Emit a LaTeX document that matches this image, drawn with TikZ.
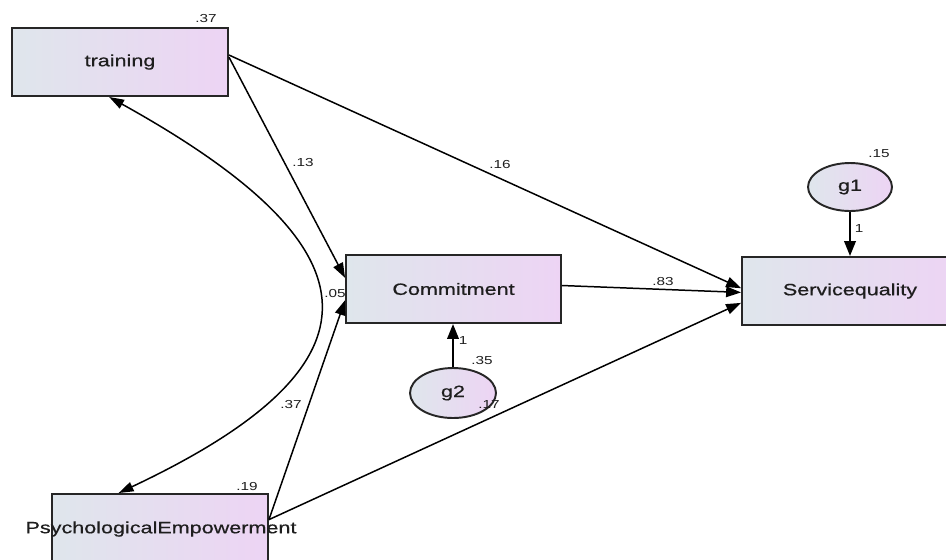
\documentclass[tikz,border=0pt]{standalone}
\usepackage{fontspec}
\setmainfont{Liberation Sans}[FakeStretch=1.32]
\newfontfamily\lblfont{Liberation Sans}[FakeStretch=1.32,FakeBold=0.6]
\usetikzlibrary{arrows.meta,calc,shapes.geometric}
\definecolor{boxL}{HTML}{DFE6EC}
\definecolor{boxR}{HTML}{EDD4F4}
\definecolor{txt}{HTML}{1E1E1E}
\begin{document}
\begin{tikzpicture}[x=0.02cm,y=-0.02cm,
  obs/.style={draw=black!85,line width=1.1pt,left color=boxL,right color=boxR,
    minimum width=4.32cm,minimum height=1.36cm,inner sep=0pt,
    font=\lblfont\fontsize{9.3}{11}\selectfont,text=txt},
  err/.style={ellipse,draw=black!85,line width=1.1pt,left color=boxL,right color=boxR,
    minimum width=1.7cm,minimum height=0.98cm,inner sep=0pt,
    font=\lblfont\fontsize{9.3}{11}\selectfont,text=txt},
  pth/.style={line width=0.85pt,-{Triangle[length=8.5pt,width=6pt]}},
  fixp/.style={line width=1.3pt,-{Triangle[length=8.5pt,width=6.5pt]}},
  dbl/.style={line width=0.85pt,{Triangle[length=8.5pt,width=5.5pt]}-{Triangle[length=8.5pt,width=5.5pt]}},
  coef/.style={font=\fontsize{6.6}{8}\selectfont,text=txt,inner sep=0pt}]
\useasboundingbox (0,0) rectangle (946,559);

% nodes
\node[obs] (training) at (120,62) {training};
\node[obs, minimum width=4.30cm] (commit) at (453.5,289) {Commitment};
\node[obs] (servq) at (850,291) {Servicequality};
\node[obs] (pe) at (160,528) {};
\node[font=\lblfont\fontsize{9.3}{11}\selectfont,text=txt,inner sep=0pt] (pelabel) at (161,529) {PsychologicalEmpowerment};
\node[err, minimum width=1.68cm, minimum height=0.96cm] (g1) at (850,187) {g1};
\node[err, minimum width=1.72cm, minimum height=1.0cm] (g2) at (453,393) {g2};

% anchor points
\coordinate (trE1) at ($(training.north east)!0.40!(training.south east)$);
\coordinate (trE2) at ($(training.north east)!0.43!(training.south east)$);
\coordinate (peE) at ($(pe.north east)!0.38!(pe.south east)$);
\coordinate (coE) at ($(commit.north east)!0.45!(commit.south east)$);
\coordinate (coW1) at ($(commit.north west)!0.34!(commit.south west)$);
\coordinate (coW2) at ($(commit.north west)!0.66!(commit.south west)$);
\coordinate (sqW1) at ($(servq.north west)!0.46!(servq.south west)$);
\coordinate (sqW2) at ($(servq.north west)!0.52!(servq.south west)$);
\coordinate (sqW3) at ($(servq.north west)!0.67!(servq.south west)$);
\coordinate (trS) at ($(training.south west)!0.45!(training.south east)$);
\coordinate (peN) at ($(pe.north west)!0.31!(pe.north east)$);

% paths
\draw[pth] (trE1) -- (sqW1);
\draw[pth] (trE2) -- (coW1);
\draw[pth] (coE) -- (sqW2);
\draw[pth] (peE) -- (coW2);
\draw[pth] (peE) -- (sqW3);
\draw[fixp] (g1.south) -- (g1.south |- servq.north);
\draw[fixp] (g2.north) -- (g2.north |- commit.south);
\draw[dbl] (trS) .. controls (385,250) and (390,365) .. (peN);

% coefficients
\node[coef] (l1) at (206,19) {.37};
\node[coef] (l2) at (303,162) {.13};
\node[coef] (l3) at (500,164) {.16};
\node[coef] (l4) at (879,154) {.15};
\node[coef] (l5) at (859,229) {1};
\node[coef] (l6) at (663,281) {.83};
\node[coef] (l7) at (335,293) {.05};
\node[coef] (l8) at (463,340) {1};
\node[coef] (l9) at (482,360) {.35};
\node[coef] (l10) at (489,404) {.17};
\node[coef] (l11) at (291,404) {.37};
\node[coef] (l12) at (247,486) {.19};
\end{tikzpicture}
\end{document}
